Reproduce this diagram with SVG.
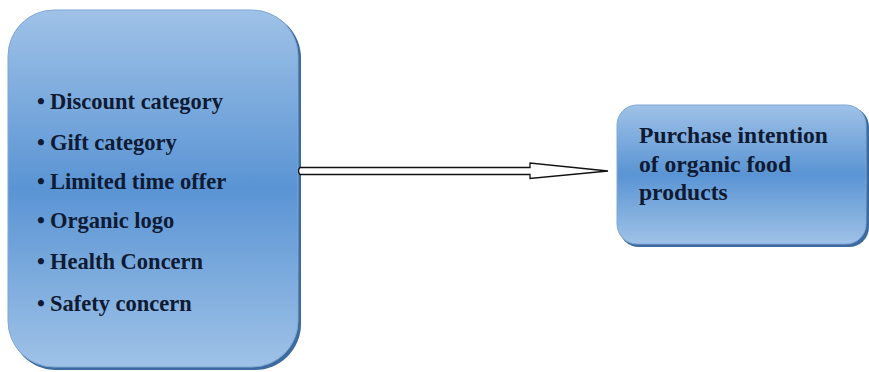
<svg xmlns="http://www.w3.org/2000/svg" width="869" height="372" viewBox="0 0 869 372">
<defs>
<linearGradient id="g" x1="0" y1="0" x2="0" y2="1">
<stop offset="0" stop-color="#9FC2E7"/>
<stop offset="0.5" stop-color="#5A94D4"/>
<stop offset="1" stop-color="#9FC2E7"/>
</linearGradient>
<style>
.box{fill:url(#g);stroke:#7FA8D6;stroke-width:1}
.sh{fill:#3D6B9F}
.t{font-family:"Liberation Serif","Times New Roman",serif;font-weight:bold;font-size:22.5px;fill:#0F1A33}
.t2{font-size:23.6px}
.arr{fill:#fff;stroke:#111;stroke-width:1.3;stroke-linejoin:miter}
</style>
</defs>
<rect width="869" height="372" fill="#fff"/>
<g id="left-node">
<rect class="sh" x="10" y="12" width="291" height="358" rx="46"/>
<rect class="box" x="8" y="10" width="290" height="357" rx="46"/>
<g class="t">
<text x="37" y="109">•</text><text x="50" y="109">Discount category</text>
<text x="37" y="150">•</text><text x="50" y="150">Gift category</text>
<text x="37" y="189">•</text><text x="50" y="189">Limited time offer</text>
<text x="37" y="228">•</text><text x="50" y="228">Organic logo</text>
<text x="37" y="269">•</text><text x="50" y="269">Health Concern</text>
<text x="37" y="311">•</text><text x="50" y="311">Safety concern</text>
</g>
</g>
<g id="right-node">
<rect class="sh" x="619" y="107" width="250" height="140" rx="20"/>
<rect class="box" x="617" y="105" width="249" height="139" rx="20"/>
<text class="t t2" x="639" y="143">Purchase intention</text>
<text class="t t2" x="639" y="172">of organic food</text>
<text class="t t2" x="639" y="200">products</text>
</g>
<g id="connectors">
<path class="arr" d="M300,167.5 L530,167.5 L530,163 L608,171 L530,178.5 L530,174.5 L300,174.5 Q297,171 300,167.5 Z"/>
</g>
</svg>
